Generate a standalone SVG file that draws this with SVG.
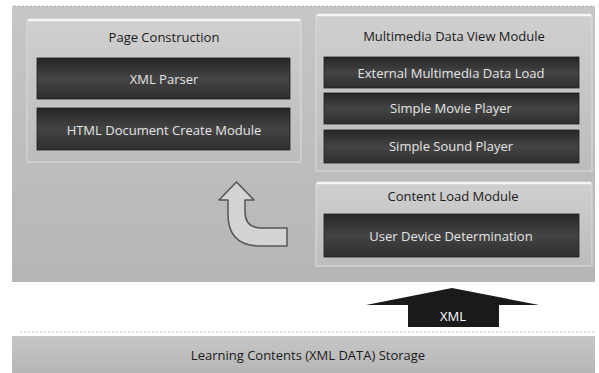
<svg xmlns="http://www.w3.org/2000/svg" width="599" height="373" viewBox="0 0 599 373">
<style>
.title{font-family:"Open Sans","Noto Sans",sans-serif;font-size:13px;fill:#1a1a1a;text-anchor:middle;dominant-baseline:central}
.lbl{font-family:"Open Sans","Noto Sans",sans-serif;font-size:13px;fill:#e4e4e4;text-anchor:middle;dominant-baseline:central}
.dark{fill:url(#gDark);stroke:#1e1e1e;stroke-width:0.8}
.panel{fill:url(#gPanel);stroke:#dcdcdc;stroke-width:1}
.hl{stroke:#f6f6f6;stroke-width:2.5}
</style>
<defs>
<linearGradient id="gDark" x1="0" y1="0" x2="0" y2="1">
<stop offset="0" stop-color="#262626"/>
<stop offset="0.5" stop-color="#444"/>
<stop offset="1" stop-color="#2e2e2e"/>
</linearGradient>
<linearGradient id="gPanel" x1="0" y1="0" x2="0" y2="1">
<stop offset="0" stop-color="#cfcfcf"/>
<stop offset="1" stop-color="#bcbcbc"/>
</linearGradient>
<linearGradient id="gBig" x1="0" y1="0" x2="0" y2="1">
<stop offset="0" stop-color="#c6c6c6"/>
<stop offset="1" stop-color="#b6b6b6"/>
</linearGradient>
</defs>
<rect width="599" height="373" fill="#ffffff"/>
<g id="outer-panel">
<rect x="12" y="6" width="583" height="276" fill="url(#gBig)"/>
<line x1="14" y1="6" x2="593" y2="6" stroke="#aaa" stroke-width="0.8" stroke-dasharray="2 2"/>
</g>
<g id="page-construction">
<rect class="panel" x="27" y="20" width="274" height="142"/>
<line class="hl" x1="28" y1="20" x2="300" y2="20"/>
<text class="title" x="164" y="37">Page Construction</text>
</g>
<g id="xml-parser">
<rect class="dark" x="37" y="58" width="253" height="41"/>
<text class="lbl" x="164" y="79">XML Parser</text>
</g>
<g id="html-document-create-module">
<rect class="dark" x="37" y="108" width="253" height="42"/>
<text class="lbl" x="164" y="130">HTML Document Create Module</text>
</g>
<g id="multimedia-data-view-module">
<rect class="panel" x="316" y="15" width="276" height="156"/>
<line class="hl" x1="317" y1="15" x2="591" y2="15"/>
<text class="title" x="454" y="36">Multimedia Data View Module</text>
</g>
<g id="external-multimedia-data-load">
<rect class="dark" x="324" y="57" width="255" height="31"/>
<text class="lbl" x="451" y="73">External Multimedia Data Load</text>
</g>
<g id="simple-movie-player">
<rect class="dark" x="324" y="93" width="255" height="31"/>
<text class="lbl" x="451" y="108">Simple Movie Player</text>
</g>
<g id="simple-sound-player">
<rect class="dark" x="324" y="130" width="255" height="33"/>
<text class="lbl" x="451" y="146">Simple Sound Player</text>
</g>
<g id="content-load-module">
<rect class="panel" x="316" y="183" width="276" height="83"/>
<line class="hl" x1="317" y1="183" x2="591" y2="183"/>
<text class="title" x="453" y="196">Content Load Module</text>
</g>
<g id="user-device-determination">
<rect class="dark" x="324" y="214" width="255" height="43"/>
<text class="lbl" x="451" y="236">User Device Determination</text>
</g>
<g id="storage">
<line x1="20" y1="332" x2="595" y2="332" stroke="#aaa" stroke-width="0.8" stroke-dasharray="2 2"/>
<rect x="12" y="336" width="583" height="37" fill="url(#gBig)"/>
<text class="title" x="308" y="355">Learning Contents (XML DATA) Storage</text>
</g>
<g id="connectors">
<path d="M287 228 L262 228 Q245 228 245 212 L245 200 L254 200 L236.5 182 L219 200 L228 200 L228 214 Q228 246 260 246 L287 246 Z" fill="#d4d4d4" stroke="#555" stroke-width="1.5" stroke-linejoin="round"/>
<polygon points="408,327 408,305 366,305 452,288 539,305 499,305 499,327" fill="#1a1a1a"/>
<text class="lbl" x="453" y="316" style="fill:#ffffff">XML</text>
</g>
</svg>
